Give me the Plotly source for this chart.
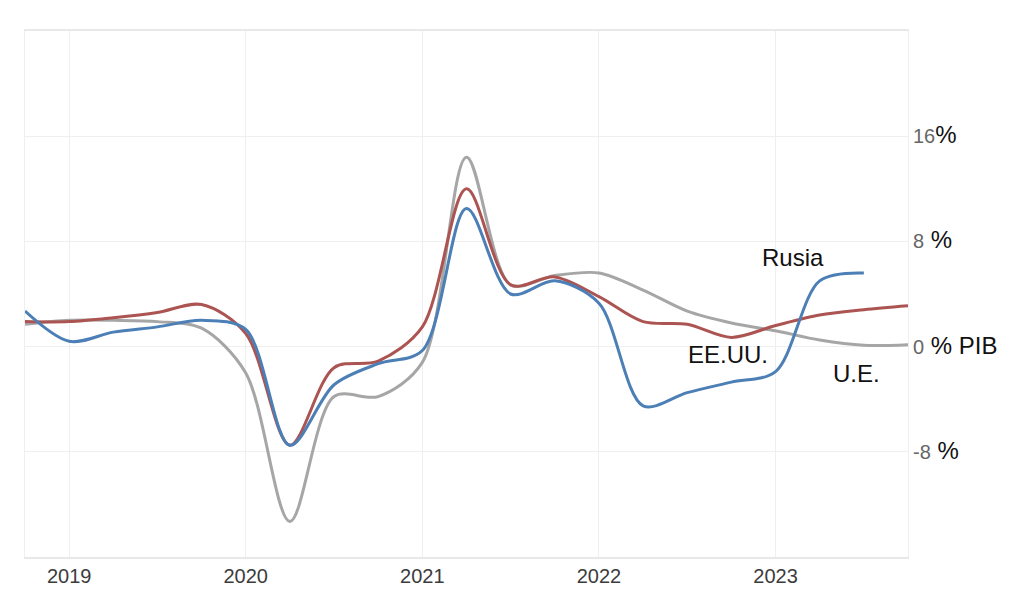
import plotly.graph_objects as go

quarters = ["2018Q4",
            "2019Q1", "2019Q2", "2019Q3", "2019Q4",
            "2020Q1", "2020Q2", "2020Q3", "2020Q4",
            "2021Q1", "2021Q2", "2021Q3", "2021Q4",
            "2022Q1", "2022Q2", "2022Q3", "2022Q4",
            "2023Q1", "2023Q2", "2023Q3", "2023Q4"]

ue = [1.7, 2.0, 2.0, 1.9, 1.4, -2.0, -13.3, -3.8, -3.8, -1.2, 14.4, 4.7, 5.4,
      5.6, 4.3, 2.7, 1.8, 1.2, 0.5, 0.1, 0.15]
eeuu = [1.9, 1.9, 2.2, 2.6, 3.2, 1.0, -7.5, -1.6, -1.1, 1.5, 12.0, 4.7, 5.3,
        3.8, 1.9, 1.7, 0.7, 1.6, 2.4, 2.8, 3.1]
rusia = [2.7, 0.4, 1.1, 1.5, 2.0, 1.3, -7.5, -2.9, -1.3, -0.3, 10.5, 4.0, 5.0,
         3.3, -4.5, -3.5, -2.7, -1.9, 5.0, 5.6]

year_ticks = [2019, 2020, 2021, 2022, 2023]
y_ticks = [-8, 0, 8, 16]
y_tick_nums = ["-8", "0", "8", "16"]
y_tick_suffix = [" %", " % PIB", " %", "%"]


def qpos(q):
    return int(q[:4]) + (int(q[-1]) - 1) / 4


x_all = [qpos(q) for q in quarters]

fig = go.Figure()
series = [("U.E.", ue, "#a6a6a6"), ("EE.UU.", eeuu, "#ab5452"), ("Rusia", rusia, "#4b7fb6")]
for name, vals, col in series:
    fig.add_trace(go.Scatter(
        x=x_all[:len(vals)], y=vals, mode="lines", name=name,
        line=dict(color=col, width=3, shape="spline", smoothing=0.9),
        hoverinfo="skip"))

pct_span = ("<span style='font-family:Liberation Sans, Arial, sans-serif;"
            "font-size:24px;color:#111111'>{}</span>")
ticktext = [n + pct_span.format(s) for n, s in zip(y_tick_nums, y_tick_suffix)]

fig.update_layout(
    width=1016, height=614,
    margin=dict(l=17, r=116, t=23, b=65),
    paper_bgcolor="white", plot_bgcolor="white",
    showlegend=False,
    xaxis=dict(range=[2018.75, 2023.75], tickvals=year_ticks,
               ticktext=[str(y) for y in year_ticks],
               showgrid=True, gridcolor="#efefef", gridwidth=1,
               zeroline=False, showline=True, linecolor="#e8e8e8", linewidth=2,
               mirror=True, ticks="",
               tickfont=dict(family="Liberation Sans Narrow, Arial Narrow, Liberation Sans, sans-serif",
                             size=20, color="#3c3c3c")),
    yaxis=dict(range=[-16, 24], side="right", tickvals=y_ticks, ticktext=ticktext,
               showgrid=True, gridcolor="#efefef", gridwidth=1,
               zeroline=False, showline=True, linecolor="#efefef", linewidth=1,
               mirror=True, ticks="",
               tickfont=dict(family="Liberation Sans Narrow, Arial Narrow, Liberation Sans, sans-serif",
                             size=20, color="#666666")),
)

ann_font = dict(family="Liberation Sans, Arial, sans-serif", size=24, color="#111111")
labels = [("Rusia", 2023.1, 6.8), ("EE.UU.", 2022.73, -0.6), ("U.E.", 2023.46, -2.05)]
for txt, ax, ay in labels:
    fig.add_annotation(x=ax, y=ay, text=txt, showarrow=False, font=ann_font,
                       xanchor="center", yanchor="middle")

fig.write_html("out.html")
